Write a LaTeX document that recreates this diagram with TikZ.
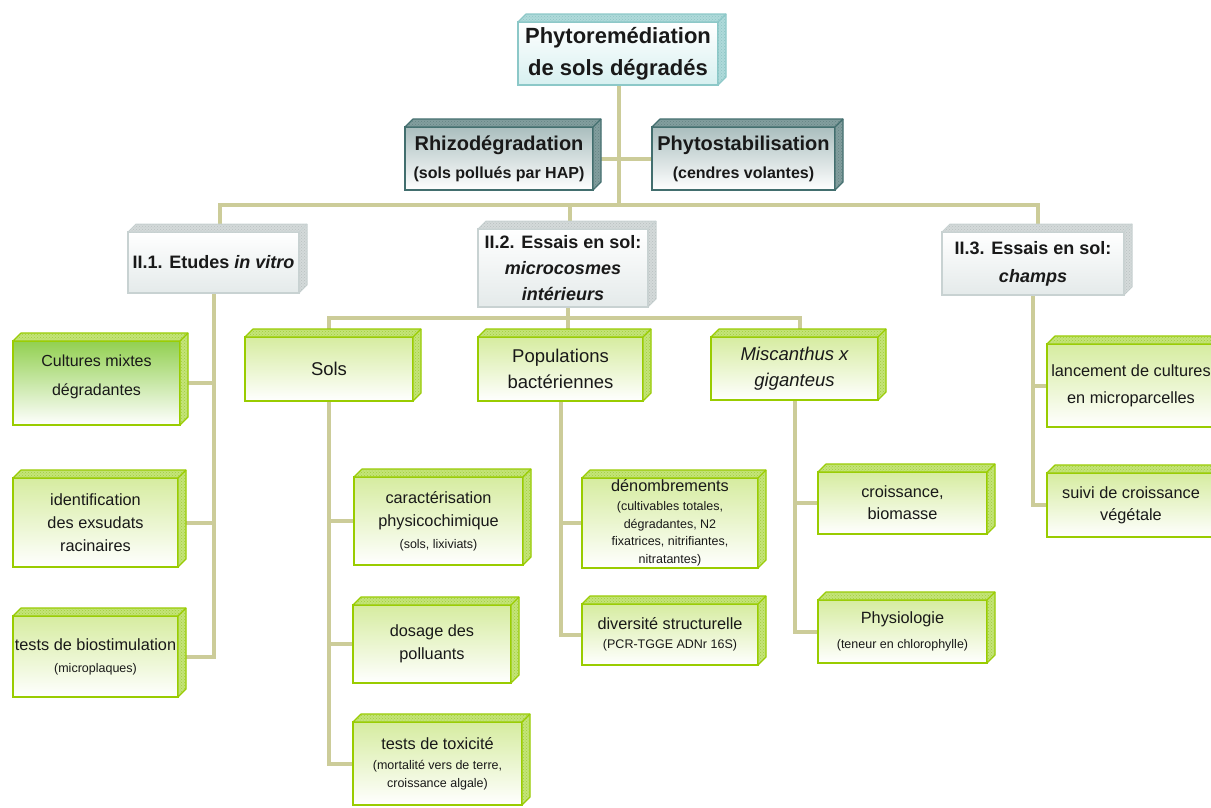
\documentclass[tikz,border=0pt]{standalone}
\usepackage{fontspec}
\setmainfont{Liberation Sans}
\usetikzlibrary{backgrounds,patterns}
\definecolor{wirec}{RGB}{204,204,153}
\definecolor{gborder}{RGB}{153,204,0}
\definecolor{gtop}{RGB}{214,236,160}
\definecolor{gdark}{RGB}{146,208,80}
\definecolor{gface}{RGB}{196,228,120}
\definecolor{gdots}{RGB}{160,205,60}
\definecolor{cborder}{RGB}{140,200,200}
\definecolor{cbot}{RGB}{215,240,240}
\definecolor{cface}{RGB}{175,218,218}
\definecolor{cdots}{RGB}{140,195,195}
\definecolor{tborder}{RGB}{66,110,110}
\definecolor{ttop}{RGB}{170,190,190}
\definecolor{tface}{RGB}{130,158,158}
\definecolor{tdots}{RGB}{100,130,130}
\definecolor{wborder}{RGB}{200,210,210}
\definecolor{wbot}{RGB}{228,234,234}
\definecolor{wface}{RGB}{212,218,218}
\definecolor{wdots}{RGB}{185,192,192}
\definecolor{txt}{RGB}{25,25,25}
\newcommand{\smalltxt}{\fontsize{12.5}{17}\selectfont}
\begin{document}
\begin{tikzpicture}[x=1pt,y=-1pt,
  R/.style n args={4}{at={({(#1+#3)/2},{(#2+#4)/2})}, minimum width={(#3-#1)*1pt}, minimum height={(#4-#2)*1pt}},
  nodebox/.style={inner sep=0pt, outer sep=0pt, align=center, text=txt},
  greenbox/.style={nodebox, draw=gborder, line width=1.6pt, top color=gtop, bottom color=white, font=\fontsize{16.3}{23}\selectfont},
  rootbox/.style={nodebox, draw=cborder, line width=1.4pt, top color=white, bottom color=cbot, font=\bfseries\fontsize{22}{32}\selectfont},
  tealbox/.style={nodebox, draw=tborder, line width=1.4pt, top color=ttop, bottom color=white, font=\bfseries\fontsize{20}{28}\selectfont},
  graybox/.style={nodebox, draw=wborder, line width=1.2pt, top color=white, bottom color=wbot, font=\bfseries\fontsize{18}{28}\selectfont},
  wire/.style={draw=wirec, line width=4pt, line join=miter}
]
\useasboundingbox (0,0) rectangle (1211,807);
\clip (0,0) rectangle (1211,807);
% top level
\node[rootbox, R={518}{22}{718}{85}] (root) {Phytoremédiation\\de sols dégradés};
\node[tealbox, R={405}{127}{593}{190}] (rhizo) {Rhizodégradation\\{\fontsize{16}{20}\selectfont (sols pollués par HAP)}};
\node[tealbox, R={652}{127}{835}{190}] (phyto) {Phytostabilisation\\{\fontsize{16}{20}\selectfont (cendres volantes)}};
\node[graybox, R={128}{232}{299}{293}] (ii1) {II.1. Etudes \textit{in vitro}};
\node[graybox, R={478}{229}{648}{307}, font=\bfseries\fontsize{18}{26}\selectfont] (ii2) {II.2. Essais en sol:\\\textit{microcosmes}\\\textit{intérieurs}};
\node[graybox, R={942}{232}{1124}{295}] (ii3) {II.3. Essais en sol:\\\textit{champs}};
% green boxes
\node[greenbox, top color=gdark, R={13}{341}{180}{425}, font=\fontsize{16}{29}\selectfont] (cult) {Cultures mixtes\\dégradantes\\[-14pt]\mbox{}};
\node[greenbox, R={13}{478}{178}{567}] (ident) {identification\\des exsudats\\racinaires};
\node[greenbox, R={13}{616}{178}{697}] (biost) {tests de biostimulation\\[-1pt]{\smalltxt (microplaques)}};
\node[greenbox, R={245}{337}{413}{401}, font=\fontsize{18.5}{26}\selectfont] (sols) {Sols};
\node[greenbox, R={478}{337}{643}{401}, font=\fontsize{18.5}{26}\selectfont] (pop) {Populations\\bactériennes};
\node[greenbox, R={711}{337}{878}{400}, font=\itshape\fontsize{18.5}{26}\selectfont] (misc) {Miscanthus x\\giganteus};
\node[greenbox, R={354}{477}{523}{565}] (carac) {caractérisation\\physicochimique\\[-1pt]{\smalltxt (sols, lixiviats)}};
\node[greenbox, R={353}{605}{511}{683}] (dosage) {dosage des\\polluants};
\node[greenbox, R={353}{722}{522}{805}] (toxic) {tests de toxicité\\[-3pt]{\smalltxt (mortalité vers de terre,}\\[-5pt]{\smalltxt croissance algale)}};
\node[greenbox, R={582}{478}{758}{568}] (denom) {dénombrements\\[-4pt]{\smalltxt (cultivables totales,}\\[-5pt]{\smalltxt dégradantes, N2}\\[-5.5pt]{\smalltxt fixatrices, nitrifiantes,}\\[-5pt]{\smalltxt nitratantes)}};
\node[greenbox, R={582}{604}{758}{665}] (divers) {diversité structurelle\\[-4pt]{\smalltxt (PCR-TGGE ADNr 16S)}};
\node[greenbox, R={818}{472}{987}{534}, font=\fontsize{16.3}{22}\selectfont] (croiss) {croissance,\\biomasse};
\node[greenbox, R={818}{600}{987}{663}] (physio) {Physiologie\\[2pt]{\smalltxt (teneur en chlorophylle)}};
\node[greenbox, R={1047}{344}{1215}{427}, font=\fontsize{16.3}{27}\selectfont] (lanc) {lancement de cultures\\en microparcelles};
\node[greenbox, R={1047}{473}{1215}{537}, font=\fontsize{16.3}{22}\selectfont] (suivi) {suivi de croissance\\végétale};
% 3D faces
\foreach \n/\fc/\dc/\pc/\lw in {root/cface/cborder/cdots/1.2, rhizo/tface/tborder/tdots/1.2, phyto/tface/tborder/tdots/1.2,
  ii1/wface/wborder/wdots/1, ii2/wface/wborder/wdots/1, ii3/wface/wborder/wdots/1,
  cult/gface/gborder/gdots/1.2, ident/gface/gborder/gdots/1.2, biost/gface/gborder/gdots/1.2,
  sols/gface/gborder/gdots/1.2, pop/gface/gborder/gdots/1.2, misc/gface/gborder/gdots/1.2,
  carac/gface/gborder/gdots/1.2, dosage/gface/gborder/gdots/1.2, toxic/gface/gborder/gdots/1.2,
  denom/gface/gborder/gdots/1.2, divers/gface/gborder/gdots/1.2, croiss/gface/gborder/gdots/1.2,
  physio/gface/gborder/gdots/1.2, lanc/gface/gborder/gdots/1.2, suivi/gface/gborder/gdots/1.2}{
  \filldraw[fill=\fc, draw=\dc, line width=\lw pt, line join=round]
    (\n.north west) -- ([shift={(8,-8)}]\n.north west) -- ([shift={(8,-8)}]\n.north east)
    -- ([shift={(8,-8)}]\n.south east) -- (\n.south east) -- (\n.north east) -- cycle;
  \path[pattern=crosshatch dots, pattern color=\pc]
    (\n.north west) -- ([shift={(8,-8)}]\n.north west) -- ([shift={(8,-8)}]\n.north east)
    -- ([shift={(8,-8)}]\n.south east) -- (\n.south east) -- (\n.north east) -- cycle;
  \draw[\dc, line width=\lw pt] (\n.north east) -- ([shift={(8,-8)}]\n.north east);
}
% connectors
\begin{scope}[on background layer]
\fill[white] (0,0) rectangle (1211,807);
\coordinate (j0) at (619,205);
\coordinate (j1) at (568,318);
\coordinate (ii1t) at ([xshift=6pt]ii1.north);
\coordinate (ii2t) at ([xshift=7pt]ii2.north);
\coordinate (ii3t) at ([xshift=5pt]ii3.north);
\coordinate (misct) at ([xshift=5pt]misc.north);
\draw[wire] (root.south -| j0) -- (j0);
\draw[wire] (rhizo.east) -- (phyto.west);
\draw[wire] (ii1t) |- (j0) -| (ii3t);
\draw[wire] (ii2t) -- (ii2t |- j0);
\draw[wire] (ii2.south -| j1) -- (j1);
\draw[wire] (sols.north) |- (j1) -| (misct);
\draw[wire] (j1) -- (pop.north -| j1);
\draw[wire] (ii1.south) |- (biost.east);
\draw[wire] (cult.east -| ii1.south) -- (cult.east);
\draw[wire] (ident.east -| ii1.south) -- (ident.east);
\draw[wire] (sols.south) |- (toxic.west);
\draw[wire] (carac.west -| sols.south) -- (carac.west);
\draw[wire] (dosage.west -| sols.south) -- (dosage.west);
\draw[wire] (pop.south) |- (divers.west);
\draw[wire] (denom.west -| pop.south) -- (denom.west);
\draw[wire] (misc.south) |- (physio.west);
\draw[wire] (croiss.west -| misc.south) -- (croiss.west);
\draw[wire] (ii3.south) |- (suivi.west);
\draw[wire] (lanc.west -| ii3.south) -- (lanc.west);
\end{scope}
\end{tikzpicture}
\end{document}
